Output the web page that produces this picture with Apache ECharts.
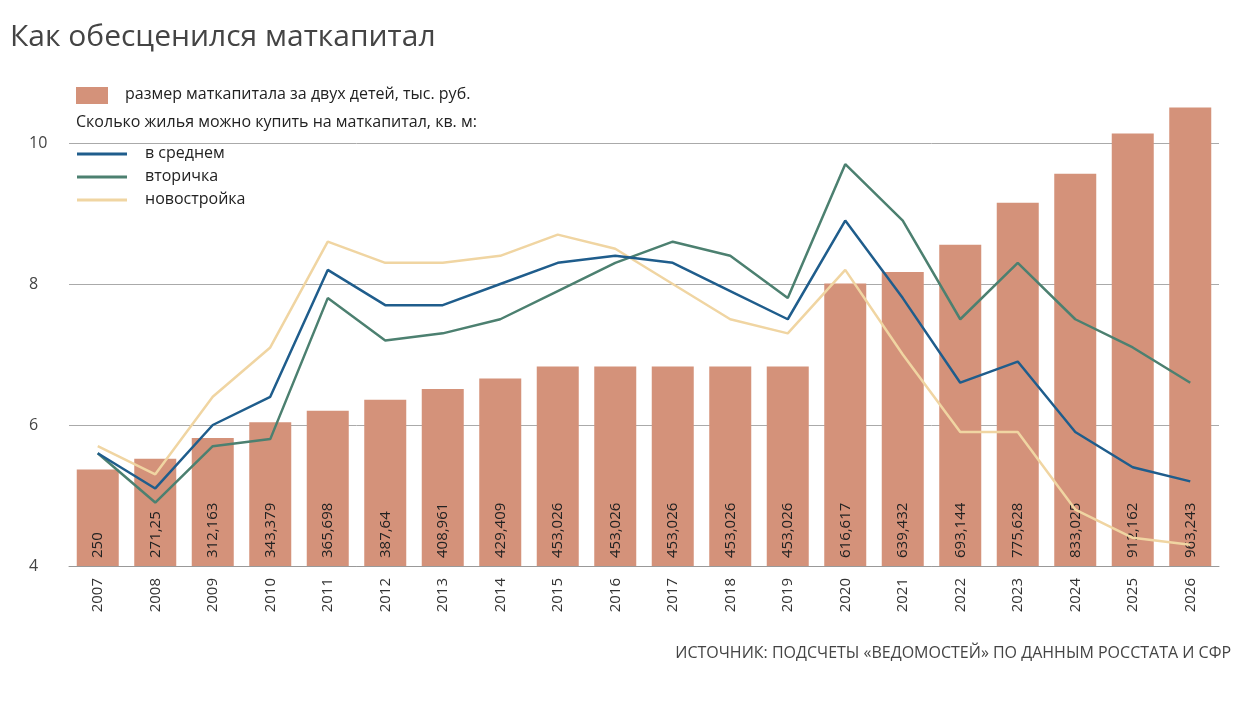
<!DOCTYPE html>
<html>
<head>
<meta charset="utf-8">
<script src="https://cdn.jsdelivr.net/npm/echarts@6/dist/echarts.min.js"></script>
<style>
    html, body { margin: 0; padding: 0; background: #fff; }
    #chart { width: 1251px; height: 704px; }
</style>
</head>
<body>
<div id="chart"></div>
<script>
    var years = ['2007', '2008', '2009', '2010', '2011', '2012', '2013', '2014', '2015', '2016',
        '2017', '2018', '2019', '2020', '2021', '2022', '2023', '2024', '2025', '2026'];
    // размер маткапитала, тыс. руб.
    var capital = [250, 271.25, 312.163, 343.379, 365.698, 387.64, 408.961, 429.409, 453.026, 453.026,
        453.026, 453.026, 453.026, 616.617, 639.432, 693.144, 775.628, 833.025, 912.162, 963.243];
    var capitalLabels = ['250', '271,25', '312,163', '343,379', '365,698', '387,64', '408,961', '429,409',
        '453,026', '453,026', '453,026', '453,026', '453,026', '616,617', '639,432', '693,144',
        '775,628', '833,025', '912,162', '963,243'];
    var avg = [5.6, 5.1, 6.0, 6.4, 8.2, 7.7, 7.7, 8.0, 8.3, 8.4, 8.3, 7.9, 7.5, 8.9, 7.8, 6.6, 6.9, 5.9, 5.4, 5.2];
    var secondary = [5.6, 4.9, 5.7, 5.8, 7.8, 7.2, 7.3, 7.5, 7.9, 8.3, 8.6, 8.4, 7.8, 9.7, 8.9, 7.5, 8.3, 7.5, 7.1, 6.6];
    var newBuild = [5.7, 5.3, 6.4, 7.1, 8.6, 8.3, 8.3, 8.4, 8.7, 8.5, 8.0, 7.5, 7.3, 8.2, 7.0, 5.9, 5.9, 4.8, 4.4, 4.3];
    var yTicks = [4, 6, 8, 10];

    // bars rise from this value at the bottom of the plot
    var barBase = 60;

    var font = '"Open Sans", "Noto Sans", sans-serif';
    var cBar = '#d4927a', cAvg = '#1f5d8c', cSec = '#4c8070', cNew = '#f0d5a2';

    var myChart = echarts.init(document.getElementById('chart'));

    function legendLine(y, color, text) {
        return [
            { type: 'line', shape: { x1: 77, y1: y, x2: 127, y2: y }, style: { stroke: color, lineWidth: 3 } },
            { type: 'text', x: 145, y: y - 9, style: { text: text, font: '16px ' + font, fill: '#222' } }
        ];
    }

    var graphics = [
        { type: 'text', x: 10, y: 22, style: { text: 'Как обесценился маткапитал', font: '30px ' + font, fill: '#444' } },
        { type: 'rect', shape: { x: 76, y: 87, width: 32, height: 17 }, style: { fill: cBar } },
        { type: 'text', x: 125, y: 86, style: { text: 'размер маткапитала за двух детей, тыс. руб.', font: '16px ' + font, fill: '#222' } },
        { type: 'text', x: 76, y: 114, style: { text: 'Сколько жилья можно купить на маткапитал, кв. м:', font: '16px ' + font, fill: '#222' } },
        { type: 'text', right: 20, y: 645, style: { text: 'ИСТОЧНИК: ПОДСЧЕТЫ «ВЕДОМОСТЕЙ» ПО ДАННЫМ РОССТАТА И СФР', font: '16px ' + font, fill: '#444' } }
    ].concat(legendLine(154, cAvg, 'в среднем'), legendLine(177, cSec, 'вторичка'), legendLine(200, cNew, 'новостройка'));

    var chartOption = {
        animation: false,
        graphic: graphics,
        grid: { left: 69, right: 32, top: 143, bottom: 138 },
        xAxis: {
            type: 'category',
            data: years,
            axisLine: { show: true, lineStyle: { color: '#999' } },
            axisTick: { show: false },
            axisLabel: { rotate: 90, color: '#333', fontSize: 15, fontFamily: font, margin: 12 }
        },
        yAxis: [{
            type: 'value',
            min: yTicks[0],
            max: yTicks[yTicks.length - 1],
            interval: 2,
            axisLine: { show: false },
            axisTick: { show: false },
            axisLabel: { color: '#444', fontSize: 16, fontFamily: font, margin: 40, align: 'left' },
            splitLine: { lineStyle: { color: '#aaa', width: 1 } }
        }, {
            type: 'value',
            min: 0,
            max: 833.5,
            show: false,
            splitLine: { show: false }
        }],
        series: [{
            type: 'bar',
            yAxisIndex: 1,
            data: capital.map(function (v) { return v - barBase; }),
            barWidth: 42,
            clip: false,
            itemStyle: { color: cBar },
            z: 1,
            label: {
                show: true,
                position: 'insideBottom',
                rotate: 90,
                align: 'left',
                verticalAlign: 'middle',
                distance: 8,
                color: '#222',
                fontSize: 15,
                fontFamily: font,
                formatter: function (p) { return capitalLabels[p.dataIndex]; }
            }
        }, {
            type: 'line', data: newBuild, symbol: 'none', z: 3,
            lineStyle: { color: cNew, width: 2.5 }
        }, {
            type: 'line', data: secondary, symbol: 'none', z: 4,
            lineStyle: { color: cSec, width: 2.5 }
        }, {
            type: 'line', data: avg, symbol: 'none', z: 5,
            lineStyle: { color: cAvg, width: 2.5 }
        }]
    };
    myChart.setOption(chartOption);
</script>
</body>
</html>
